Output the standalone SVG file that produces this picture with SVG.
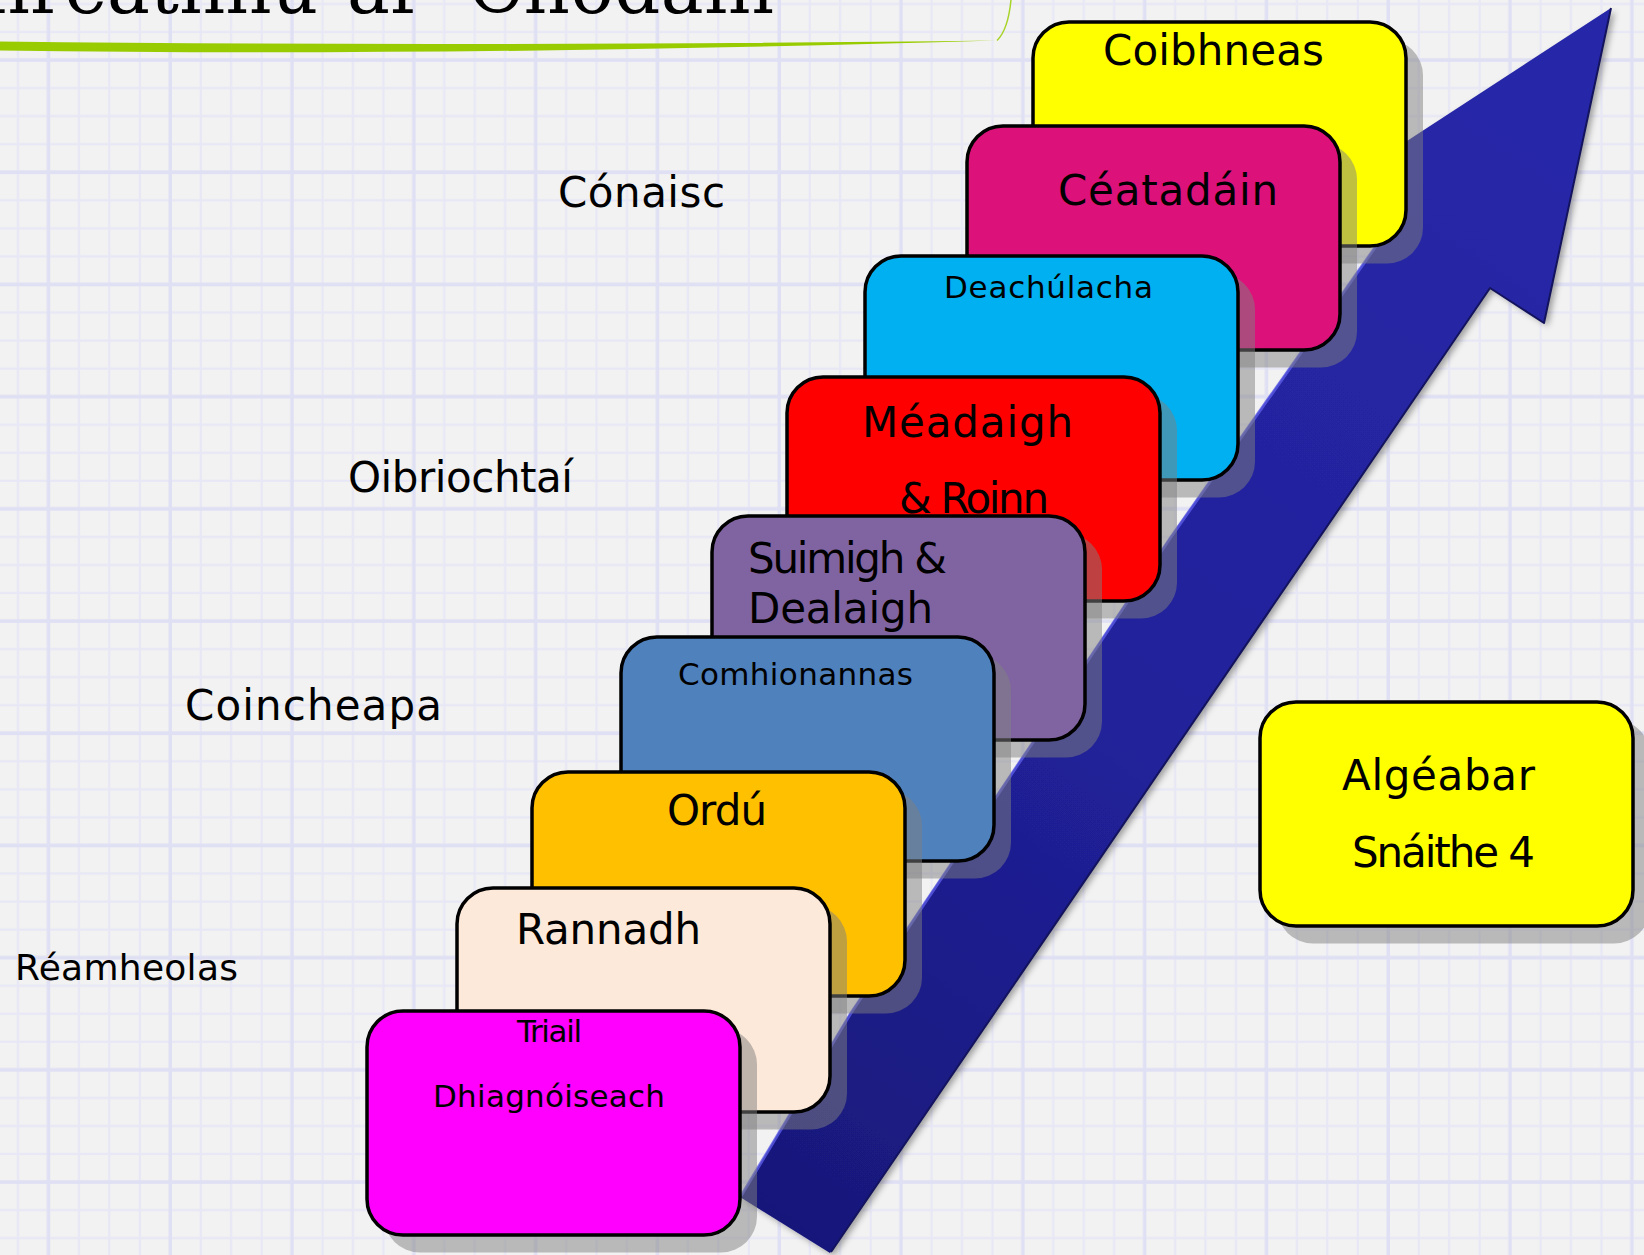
<svg xmlns="http://www.w3.org/2000/svg" width="1644" height="1255" viewBox="0 0 1644 1255">
<defs>
<style>
.shadow{fill:#808080;fill-opacity:.5}
.box{stroke:#000;stroke-width:3.5}
.t{font-family:"DejaVu Sans","Liberation Sans",sans-serif;fill:#000}
.big{font-size:42px}
.small{font-size:31px}
.lbl{font-size:42px}
.title{font-family:"DejaVu Serif","Liberation Serif",serif;font-size:72px;fill:#000}
</style>
<pattern id="grid" x="33.225" y="158.225" width="121.8" height="112.2" patternUnits="userSpaceOnUse">
<path d="M45.675,0V112.2M76.125,0V112.2M106.575,0V112.2M0,42.075H121.8M0,70.125H121.8M0,98.175H121.8" stroke="#e7e7f6" stroke-width="2.2" fill="none"/>
<path d="M15.225,0V112.2M0,14.025H121.8" stroke="#e0e0f4" stroke-width="3.5" fill="none"/>
</pattern>
<linearGradient id="arrowGrad" gradientUnits="userSpaceOnUse" x1="790" y1="1230" x2="1560" y2="150">
<stop offset="0" stop-color="#18187a"/>
<stop offset="0.45" stop-color="#21219a"/>
<stop offset="1" stop-color="#2828a8"/>
</linearGradient>
<filter id="arrowShadow" x="-10%" y="-10%" width="120%" height="120%">
<feDropShadow dx="4" dy="3" stdDeviation="3" flood-color="#000" flood-opacity="0.35"/>
</filter>
</defs>

<rect width="1644" height="1255" fill="#f2f2f2"/>
<rect width="1644" height="1255" fill="url(#grid)"/>

<g id="title">
<text class="title" x="318" y="13" text-anchor="end">Forbhreathnú</text>
<text class="title" x="347" y="13">ar</text>
<text class="title" x="468" y="13" textLength="306">Chodáin</text>
<path d="M0,41.5 Q450,47 996,40.5 Q450,57 0,50.5 Z" fill="#99cc00"/>
<path d="M1011,0 Q1008,30 997,40.5" fill="none" stroke="#a8d42a" stroke-width="1.5"/>
</g>

<g id="arrow">
<path d="M740,1197 L850,1013 L1170,537 L1393,221 L1341,184 L1611,8 L1544,323 L1490,288 L830,1253 Z" fill="url(#arrowGrad)" filter="url(#arrowShadow)"/>
<path d="M741,1196 L851,1013 L1171,537 L1393,222" fill="none" stroke="#5a5ae6" stroke-width="3" stroke-opacity="0.8"/>
<path d="M831,1252 L1490,288 L1544,323 L1611,8" fill="none" stroke="#13135e" stroke-width="2" stroke-linejoin="round"/>
</g>

<g id="labels">
<text class="t lbl" x="558" y="207" textLength="167">Cónaisc</text>
<text class="t lbl" x="348" y="492" textLength="225">Oibriochtaí</text>
<text class="t lbl" x="185" y="720" textLength="257">Coincheapa</text>
<text class="t" style="font-size:36px" x="15" y="980" textLength="223">Réamheolas</text>
</g>

<g id="coibhneas">
<rect class="shadow" x="1050" y="39.5" width="373" height="224" rx="36"/>
<rect class="box" x="1033" y="22" width="373" height="224" rx="36" fill="#ffff00"/>
<text class="t big" x="1103" y="65" textLength="221">Coibhneas</text>
</g>

<g id="ceatadain">
<rect class="shadow" x="984" y="143.5" width="373" height="224" rx="36"/>
<rect class="box" x="967" y="126" width="373" height="224" rx="36" fill="#dc127a"/>
<text class="t big" x="1058" y="205" textLength="220">Céatadáin</text>
</g>

<g id="deachulacha">
<rect class="shadow" x="882" y="273.5" width="373" height="224" rx="36"/>
<rect class="box" x="865" y="256" width="373" height="224" rx="36" fill="#00b0f0"/>
<text class="t small" x="944" y="298" textLength="209">Deachúlacha</text>
</g>

<g id="meadaigh">
<rect class="shadow" x="804" y="394.5" width="373" height="224" rx="36"/>
<rect class="box" x="787" y="377" width="373" height="224" rx="36" fill="#ff0000"/>
<text class="t big" x="862" y="437" textLength="211">Méadaigh</text>
<text class="t big" x="899" y="513" textLength="150">&amp; Roinn</text>
</g>

<g id="suimigh">
<rect class="shadow" x="729" y="533.5" width="373" height="224" rx="36"/>
<rect class="box" x="712" y="516" width="373" height="224" rx="36" fill="#8064a2"/>
<text class="t big" x="748" y="573" textLength="199">Suimigh &amp;</text>
<text class="t big" x="748" y="623" textLength="185">Dealaigh</text>
</g>

<g id="comhionannas">
<rect class="shadow" x="638" y="654.5" width="373" height="224" rx="36"/>
<rect class="box" x="621" y="637" width="373" height="224" rx="36" fill="#4f81bd"/>
<text class="t small" x="678" y="685" textLength="235">Comhionannas</text>
</g>

<g id="ordu">
<rect class="shadow" x="549" y="789.5" width="373" height="224" rx="36"/>
<rect class="box" x="532" y="772" width="373" height="224" rx="36" fill="#ffc000"/>
<text class="t big" x="667" y="825" textLength="100">Ordú</text>
</g>

<g id="rannadh">
<rect class="shadow" x="474" y="905.5" width="373" height="224" rx="36"/>
<rect class="box" x="457" y="888" width="373" height="224" rx="36" fill="#fde9d9"/>
<text class="t big" x="516" y="944" textLength="185">Rannadh</text>
</g>

<g id="triail">
<rect class="shadow" x="384" y="1028.5" width="373" height="224" rx="36"/>
<rect class="box" x="367" y="1011" width="373" height="224" rx="36" fill="#ff00ff"/>
<text class="t small" x="517" y="1042" textLength="65">Triail</text>
<text class="t small" x="433" y="1107" textLength="232">Dhiagnóiseach</text>
</g>

<g id="algeabar">
<rect class="shadow" x="1277" y="719.5" width="373" height="224" rx="36"/>
<rect class="box" x="1260" y="702" width="373" height="224" rx="36" fill="#ffff00"/>
<text class="t big" x="1342" y="790" textLength="193">Algéabar</text>
<text class="t big" x="1352" y="867" textLength="183">Snáithe 4</text>
</g>
</svg>
